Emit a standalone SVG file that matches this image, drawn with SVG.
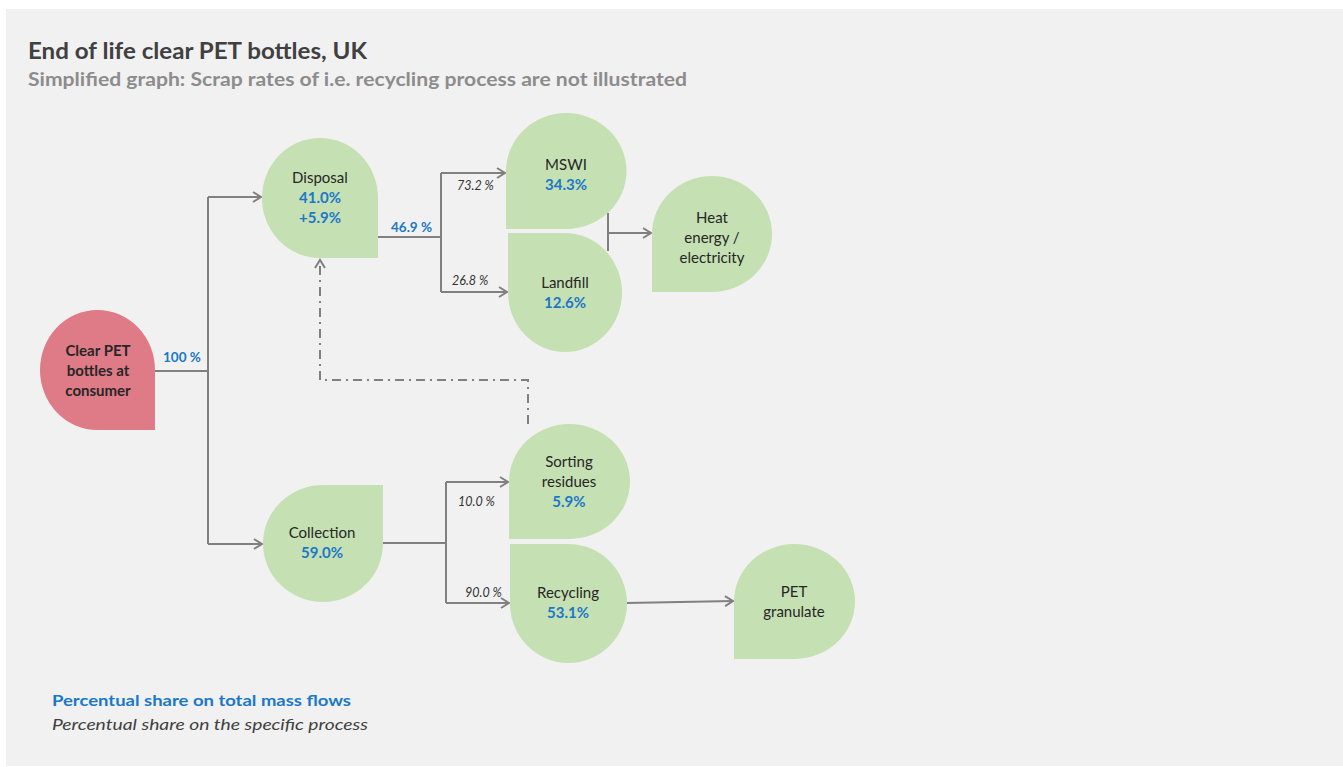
<svg xmlns="http://www.w3.org/2000/svg" width="1343" height="767" viewBox="0 0 1343 767">
<defs>
<style>
.bg{fill:#f1f1f1}
.g{fill:#c5e0b3}
.r{fill:#df7b86}
.t{font-family:Lato,"Liberation Sans",sans-serif;font-size:15px;fill:#262626;text-anchor:middle}
.b{font-weight:bold}
.v{font-family:Lato,"Liberation Sans",sans-serif;font-size:15px;font-weight:bold;fill:#1a78c8;text-anchor:middle}
.lbl{font-family:Lato,"Liberation Sans",sans-serif;font-size:13.5px;font-weight:bold;fill:#1a78c8}
.it{font-family:Lato,"Liberation Sans",sans-serif;font-size:12.5px;font-style:italic;fill:#333}
.ln{fill:none;stroke:#808080;stroke-width:2}
</style>
<marker id="ar" markerWidth="12" markerHeight="12" refX="10" refY="6" orient="auto" markerUnits="userSpaceOnUse">
<path d="M2,1 L10,6 L2,11" fill="none" stroke="#808080" stroke-width="2"/>
</marker>
</defs>
<rect class="bg" x="6" y="9" width="1337" height="757"/>
<text x="28" y="59" font-family="Lato,'Liberation Sans',sans-serif" font-size="22" font-weight="bold" fill="#404040" textLength="339" lengthAdjust="spacingAndGlyphs">End of life clear PET bottles, UK</text>
<text x="28" y="86" font-family="Lato,'Liberation Sans',sans-serif" font-size="18" font-weight="bold" fill="#8c8c8c" textLength="659" lengthAdjust="spacingAndGlyphs">Simplified graph: Scrap rates of i.e. recycling process are not illustrated</text>

<g id="connectors">
<polyline class="ln" points="155,371 208,371"/>
<polyline class="ln" points="208,197 208,544"/>
<line class="ln" x1="208" y1="197" x2="261" y2="197" marker-end="url(#ar)"/>
<line class="ln" x1="208" y1="544" x2="262" y2="544" marker-end="url(#ar)"/>
<polyline class="ln" points="378,237 441,237"/>
<polyline class="ln" points="441,173 441,292"/>
<line class="ln" x1="441" y1="173" x2="505" y2="173" marker-end="url(#ar)"/>
<line class="ln" x1="441" y1="292" x2="507" y2="292" marker-end="url(#ar)"/>
<polyline class="ln" points="608,213 608,251"/>
<line class="ln" x1="608" y1="233" x2="651" y2="233" marker-end="url(#ar)"/>
<polyline class="ln" points="383,543 446,543"/>
<polyline class="ln" points="446,482 446,603"/>
<line class="ln" x1="446" y1="482" x2="508" y2="482" marker-end="url(#ar)"/>
<line class="ln" x1="446" y1="603" x2="509" y2="603" marker-end="url(#ar)"/>
<line class="ln" x1="627" y1="603" x2="733" y2="601" marker-end="url(#ar)"/>
<polyline class="ln" points="528,424 528,380 320,380 320,260" stroke-dasharray="9,5,2,5" marker-end="url(#ar)"/>
<text class="lbl" x="163" y="362">100 %</text>
<text class="lbl" x="391" y="232">46.9 %</text>
<text class="it" x="457" y="190">73.2 %</text>
<text class="it" x="452" y="285">26.8 %</text>
<text class="it" x="458" y="506">10.0 %</text>
<text class="it" x="465" y="597">90.0 %</text>
</g>

<g id="clear-pet">
<path class="r" d="M97.5,310 A57.5,60 0 0 1 155,370 L155,430 L97.5,430 A57.5,60 0 0 1 40,370 A57.5,60 0 0 1 97.5,310 Z"/>
<text class="t b" x="98" y="356" fill="#000">Clear PET</text>
<text class="t b" x="98" y="376" fill="#000">bottles at</text>
<text class="t b" x="98" y="396" fill="#000">consumer</text>
</g>

<g id="disposal">
<path class="g" d="M320,138 A58,60 0 0 1 378,198 L378,258 L320,258 A58,60 0 0 1 262,198 A58,60 0 0 1 320,138 Z"/>
<text class="t" x="320" y="183">Disposal</text>
<text class="v" x="320" y="203">41.0%</text>
<text class="v" x="320" y="223">+5.9%</text>
</g>

<g id="collection">
<path class="g" d="M323,485 L383,485 L383,543.5 A60,58.5 0 0 1 323,602 A60,58.5 0 0 1 263,543.5 A60,58.5 0 0 1 323,485 Z"/>
<text class="t" x="322" y="538">Collection</text>
<text class="v" x="322" y="558">59.0%</text>
</g>

<g id="mswi">
<path class="g" d="M566,113 A60.5,58 0 0 1 626.5,171 A60.5,58 0 0 1 566,229 L506,229 L506,171 A60.5,58 0 0 1 566,113 Z"/>
<text class="t" x="566" y="170">MSWI</text>
<text class="v" x="566" y="190">34.3%</text>
</g>

<g id="landfill">
<path class="g" d="M508,233 L565,233 A57,59.5 0 0 1 622,292.5 A57,59.5 0 0 1 565,352 A57,59.5 0 0 1 508,292.5 Z"/>
<text class="t" x="565" y="288">Landfill</text>
<text class="v" x="565" y="308">12.6%</text>
</g>

<g id="heat">
<path class="g" d="M712,176 A60,58 0 0 1 772,234 A60,58 0 0 1 712,292 L652,292 L652,234 A60,58 0 0 1 712,176 Z"/>
<text class="t" x="712" y="223">Heat</text>
<text class="t" x="712" y="243">energy /</text>
<text class="t" x="712" y="263">electricity</text>
</g>

<g id="sorting">
<path class="g" d="M569.5,424 A60.5,57.5 0 0 1 630,481.5 A60.5,57.5 0 0 1 569.5,539 L509,539 L509,481.5 A60.5,57.5 0 0 1 569.5,424 Z"/>
<text class="t" x="569" y="467">Sorting</text>
<text class="t" x="569" y="487">residues</text>
<text class="v" x="569" y="507">5.9%</text>
</g>

<g id="recycling">
<path class="g" d="M510,544 L568.5,544 A58.5,59.5 0 0 1 627,603.5 A58.5,59.5 0 0 1 568.5,663 A58.5,59.5 0 0 1 510,603.5 Z"/>
<text class="t" x="568" y="598">Recycling</text>
<text class="v" x="568" y="618">53.1%</text>
</g>

<g id="pet-granulate">
<path class="g" d="M794.5,544 A60.5,57.5 0 0 1 855,601.5 A60.5,57.5 0 0 1 794.5,659 L734,659 L734,601.5 A60.5,57.5 0 0 1 794.5,544 Z"/>
<text class="t" x="794" y="597">PET</text>
<text class="t" x="794" y="617">granulate</text>
</g>

<g id="legend">
<text x="52" y="706" font-family="Lato,'Liberation Sans',sans-serif" font-size="16" font-weight="bold" fill="#1a78c8" textLength="299" lengthAdjust="spacingAndGlyphs">Percentual share on total mass flows</text>
<text x="52" y="730" font-family="Lato,'Liberation Sans',sans-serif" font-size="16" font-style="italic" fill="#404040" textLength="316" lengthAdjust="spacingAndGlyphs">Percentual share on the specific process</text>
</g>
</svg>
